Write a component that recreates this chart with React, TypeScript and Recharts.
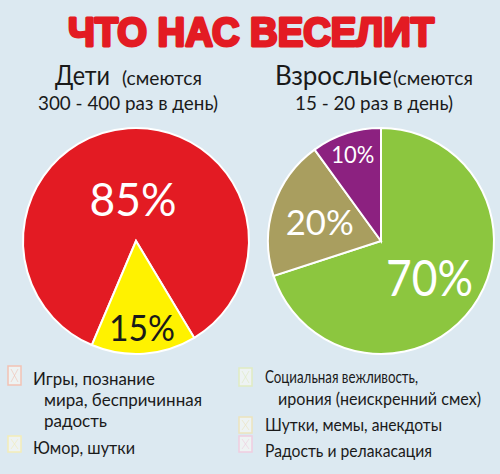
import { PieChart, Pie, Cell } from 'recharts';

// Дети / Взрослые — доли причин смеха
const kidsCategories = ['Игры, познание мира, беспричинная радость', 'Юмор, шутки'];
const kidsValues = [85, 15];
const kidsLabels = ['85%', '15%'];

const adultCategories = [
  'Социальная вежливость, ирония (неискренний смех)',
  'Шутки, мемы, анекдоты',
  'Радость и релакасация',
];
const adultValues = [70, 20, 10];
const adultLabels = ['70%', '20%', '10%'];

const kidsColors = ['#e31b23', '#fff200'];
const adultColors = ['#8cc63f', '#a99e5f', '#8c2180'];
const kidsLabelColors = ['#ffffff', '#1a1a1a'];

// label placement / size per slice (style, not data)
const kidsLabelStyle = [
  { r: 0.38, size: 46, w: 87 },
  { r: 0.76, size: 37, w: 66 },
];
const adultLabelStyle = [
  { r: 0.53, size: 51, w: 87 },
  { r: 0.57, size: 35, w: 68 },
  { r: 0.81, size: 24, w: 43 },
];

const BG = '#dce9f1';
const RADIAN = Math.PI / 180;

const kidsData = kidsCategories.map((name, i) => ({ name, value: kidsValues[i], label: kidsLabels[i] }));
const adultData = adultCategories.map((name, i) => ({ name, value: adultValues[i], label: adultLabels[i] }));

const txt = "Lato, 'Open Sans', sans-serif";

function makeLabel(styles: { r: number; size: number; w: number }[], colors: string[]) {
  return (props: any) => {
    const { cx, cy, midAngle, outerRadius, index, payload } = props;
    const st = styles[index];
    const rr = outerRadius * st.r;
    const x = cx + rr * Math.cos(-midAngle * RADIAN);
    const y = cy + rr * Math.sin(-midAngle * RADIAN);
    return (
      <text
        x={x}
        y={y}
        fill={colors[index]}
        fontSize={st.size}
        fontFamily={txt}
        textAnchor="middle"
        dominantBaseline="central"
        textLength={st.w}
        lengthAdjust="spacingAndGlyphs"
      >
        {payload.label}
      </text>
    );
  };
}

function LegendMark({ x, y, h, color }: { x: number; y: number; h: number; color: string }) {
  const w = 13;
  return (
    <g>
      <rect x={x} y={y} width={w} height={h} fill="#eef3f3" stroke={color} strokeWidth={1.5} />
      <line x1={x + 3} y1={y + 3} x2={x + w - 3} y2={y + h - 3} stroke={color} strokeWidth={1} opacity={0.6} />
      <line x1={x + w - 3} y1={y + 3} x2={x + 3} y2={y + h - 3} stroke={color} strokeWidth={1} opacity={0.6} />
    </g>
  );
}

export default function App() {
  return (
    <div style={{ position: 'absolute', left: 0, top: 0, width: 500, height: 474, background: BG, overflow: 'hidden' }}>
      <PieChart width={500} height={474} style={{ position: 'absolute', left: 0, top: 0 }}>
        <Pie
          data={kidsData}
          dataKey="value"
          cx={131}
          cy={236}
          outerRadius={113}
          startAngle={247}
          endAngle={-113}
          stroke="#ffffff"
          strokeWidth={2}
          labelLine={false}
          label={makeLabel(kidsLabelStyle, kidsLabelColors)}
          isAnimationActive={false}
        >
          {kidsData.map((d, i) => (
            <Cell key={d.name} fill={kidsColors[i]} />
          ))}
        </Pie>
        <Pie
          data={adultData}
          dataKey="value"
          cx={376}
          cy={236}
          outerRadius={113}
          startAngle={90}
          endAngle={-270}
          stroke="#ffffff"
          strokeWidth={2}
          labelLine={false}
          label={makeLabel(adultLabelStyle, ['#ffffff', '#ffffff', '#ffffff'])}
          isAnimationActive={false}
        >
          {adultData.map((d, i) => (
            <Cell key={d.name} fill={adultColors[i]} />
          ))}
        </Pie>
      </PieChart>

      <svg width={500} height={474} style={{ position: 'absolute', left: 0, top: 0, pointerEvents: 'none' }}>
        <text
          x={68}
          y={46}
          fill="#e31b23"
          fontSize={40}
          fontWeight={900}
          fontFamily="'Liberation Sans', Arial, sans-serif"
          textLength={366}
          lengthAdjust="spacingAndGlyphs"
          stroke="#e31b23"
          strokeWidth={3}
          strokeLinejoin="round"
        >
          ЧТО НАС ВЕСЕЛИТ
        </text>

        <g fill="#1a1a1a" fontFamily={txt}>
          <text x={55} y={85} fontSize={27} textLength={55} lengthAdjust="spacingAndGlyphs">Дети</text>
          <text x={122} y={85} fontSize={19} textLength={80} lengthAdjust="spacingAndGlyphs">(смеются</text>
          <text x={38} y={110} fontSize={20} textLength={180} lengthAdjust="spacingAndGlyphs">300 - 400 раз в день)</text>

          <text x={275} y={85} fontSize={27} textLength={117} lengthAdjust="spacingAndGlyphs">Взрослые</text>
          <text x={393} y={85} fontSize={19} textLength={80} lengthAdjust="spacingAndGlyphs">(смеются</text>
          <text x={295} y={110} fontSize={20} textLength={158} lengthAdjust="spacingAndGlyphs">15 - 20 раз в день)</text>

          <text x={33} y={385} fontSize={17} textLength={122} lengthAdjust="spacingAndGlyphs">Игры, познание</text>
          <text x={44} y={406} fontSize={17} textLength={158} lengthAdjust="spacingAndGlyphs">мира, беспричинная</text>
          <text x={44} y={427} fontSize={17} textLength={63} lengthAdjust="spacingAndGlyphs">радость</text>
          <text x={33} y={454} fontSize={17} textLength={102} lengthAdjust="spacingAndGlyphs">Юмор, шутки</text>

          <text x={265} y={383} fontSize={17} textLength={153} lengthAdjust="spacingAndGlyphs">Социальная вежливость,</text>
          <text x={278} y={405} fontSize={17} textLength={203} lengthAdjust="spacingAndGlyphs">ирония (неискренний смех)</text>
          <text x={265} y={431} fontSize={17} textLength={177} lengthAdjust="spacingAndGlyphs">Шутки, мемы, анекдоты</text>
          <text x={265} y={457} fontSize={17} textLength={167} lengthAdjust="spacingAndGlyphs">Радость и релакасация</text>
        </g>

        <LegendMark x={8} y={366} h={19} color="#f2c2b4" />
        <LegendMark x={8} y={436} h={16} color="#f3edb8" />
        <LegendMark x={239} y={368} h={18} color="#e0ebc2" />
        <LegendMark x={239} y={417} h={16} color="#ece4bd" />
        <LegendMark x={239} y={436} h={16} color="#efcde0" />
      </svg>
    </div>
  );
}
